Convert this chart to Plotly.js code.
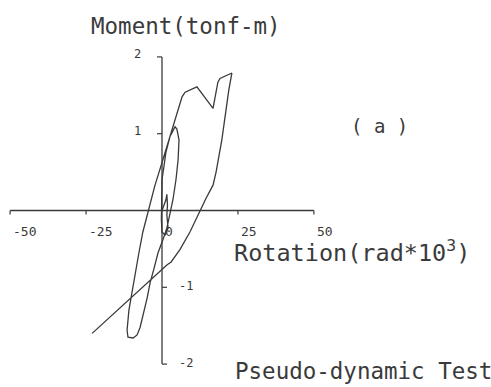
<!DOCTYPE html>
<html>
<head>
<meta charset="utf-8">
<script src="https://cdn.plot.ly/plotly-3.0.1.min.js"></script>
<style>
  html, body { margin: 0; padding: 0; background: #fff; }
  #chart { width: 491px; height: 387px; }
</style>
</head>
<body>
<div id="chart"></div>
<script>
// Hysteresis record: rotation (rad*10^3) vs. moment (tonf-m)
const rotation = [
  0, 1.3, 1.6, 1.8, 1.6, 2.0, 1.0, 0, -0.2,
  -0.2, 0, 0.7, 1.3, 2.6, 3.6, 4.3, 4.9, 5.6, 5.3, 4.6, 3.6, 2.6, 1.6, 0.3,
  -1.3, -2.6, -3.9, -4.9, -6.3, -7.2, -8.2, -9.5, -11.2, -11.5,
  -10.9, -9.9, -8.9, -7.6, -6.3, -4.6,
  -2.3, 0.3, 2.6, 5.3, 6.6, 7.6, 11.5, 16.8, 18.4, 19.1, 23.0,
  22.0, 21.1, 19.7, 17.8, 16.8, 14.5, 12.2, 9.2, 5.9, 3.0, 1.6,
  -23.0
];
const moment = [
  0, 0.14, 0.21, 0.07, -0.06, -0.23, -0.32, -0.28, -0.12,
  0.14, 0.40, 0.59, 0.76, 0.96, 1.05, 1.09, 1.06, 0.92, 0.66, 0.40, 0.14, -0.06, -0.23, -0.38,
  -0.55, -0.75, -0.94, -1.14, -1.36, -1.52, -1.62, -1.66, -1.65, -1.56,
  -1.30, -1.06, -0.84, -0.55, -0.28, -0.02,
  0.33, 0.66, 0.96, 1.28, 1.48, 1.54, 1.61, 1.33, 1.67, 1.72, 1.79,
  1.57, 1.31, 0.92, 0.50, 0.33, 0.16, -0.03, -0.28, -0.51, -0.67, -0.71,
  -1.60
];

// Axis ticks and their labels
const xTickVals = [-50, -25, 0, 25, 50];
const xTickText = ['-50', '-25', '0', '25', '50'];
const yTickVals = [2, 1, -1, -2];
const yTickText = ['2', '1', '-1', '-2'];

const ink = '#3a3a3a';
const mono = 'DejaVu Sans Mono, monospace';

const shapes = [];
const annotations = [];

// Cross-shaped axes through the origin
shapes.push({type: 'line', xref: 'x', yref: 'y',
  x0: Math.min(...xTickVals), x1: Math.max(...xTickVals), y0: 0, y1: 0,
  line: {color: ink, width: 1.3}});
shapes.push({type: 'line', xref: 'x', yref: 'y',
  x0: 0, x1: 0, y0: Math.min(...yTickVals), y1: Math.max(...yTickVals),
  line: {color: ink, width: 1.3}});

// x ticks hang below the axis, labels start at the tick
xTickVals.forEach((v, i) => {
  if (v !== 0) {
    shapes.push({type: 'line', xref: 'x', yref: 'y', ysizemode: 'pixel', yanchor: 0,
      x0: v, x1: v, y0: 0, y1: -4, line: {color: ink, width: 1.2}});
  }
  annotations.push({xref: 'x', yref: 'y', x: v, y: 0, text: xTickText[i],
    xanchor: 'left', yanchor: 'middle', xshift: 1, yshift: -21, showarrow: false,
    font: {family: mono, size: 13, color: ink}});
});

// y ticks: positive side to the left of the axis, negative side to the right
yTickVals.forEach((v, i) => {
  const left = v > 0;
  shapes.push({type: 'line', xref: 'x', yref: 'y', xsizemode: 'pixel', xanchor: 0,
    x0: 0, x1: left ? -5 : 5, y0: v, y1: v, line: {color: ink, width: 1.2}});
  annotations.push({xref: 'x', yref: 'y', x: 0, y: v, text: yTickText[i],
    xanchor: left ? 'right' : 'left', yanchor: 'middle',
    xshift: left ? -19 : 15, yshift: left ? 3 : 1, showarrow: false,
    font: {family: mono, size: 12, color: ink}});
});

// Text placed in pixel terms relative to the plotting area
const plotL = 1, plotW = 322, plotT = 40, plotH = 337;
const px = p => (p - plotL) / plotW;
const py = p => (plotT + plotH - p) / plotH;
function label(text, left, mid, size) {
  annotations.push({xref: 'paper', yref: 'paper', x: px(left), y: py(mid), text: text,
    xanchor: 'left', yanchor: 'middle', showarrow: false,
    font: {family: mono, size: size, color: ink}});
}
label('Moment(tonf-m)', 89, 26, 22.5);
label('( a )', 349, 126, 19);
label('Rotation(rad*10<sup>3</sup>)', 232, 251, 23.5);
label('Pseudo-dynamic Test', 233, 371, 22.5);

const trace = {
  x: rotation, y: moment, type: 'scatter', mode: 'lines',
  line: {color: ink, width: 1.3, shape: 'linear'},
  hoverinfo: 'skip'
};

const layout = {
  width: 491, height: 387,
  margin: {l: plotL, r: 491 - plotL - plotW, t: plotT, b: 387 - plotT - plotH, pad: 0},
  paper_bgcolor: '#ffffff', plot_bgcolor: '#ffffff',
  showlegend: false,
  xaxis: {range: [-53, 53], visible: false, showgrid: false, zeroline: false, fixedrange: true},
  yaxis: {range: [-2.168, 2.22], visible: false, showgrid: false, zeroline: false, fixedrange: true},
  shapes: shapes,
  annotations: annotations
};

Plotly.newPlot('chart', [trace], layout, {displayModeBar: false, staticPlot: true});
</script>
</body>
</html>
